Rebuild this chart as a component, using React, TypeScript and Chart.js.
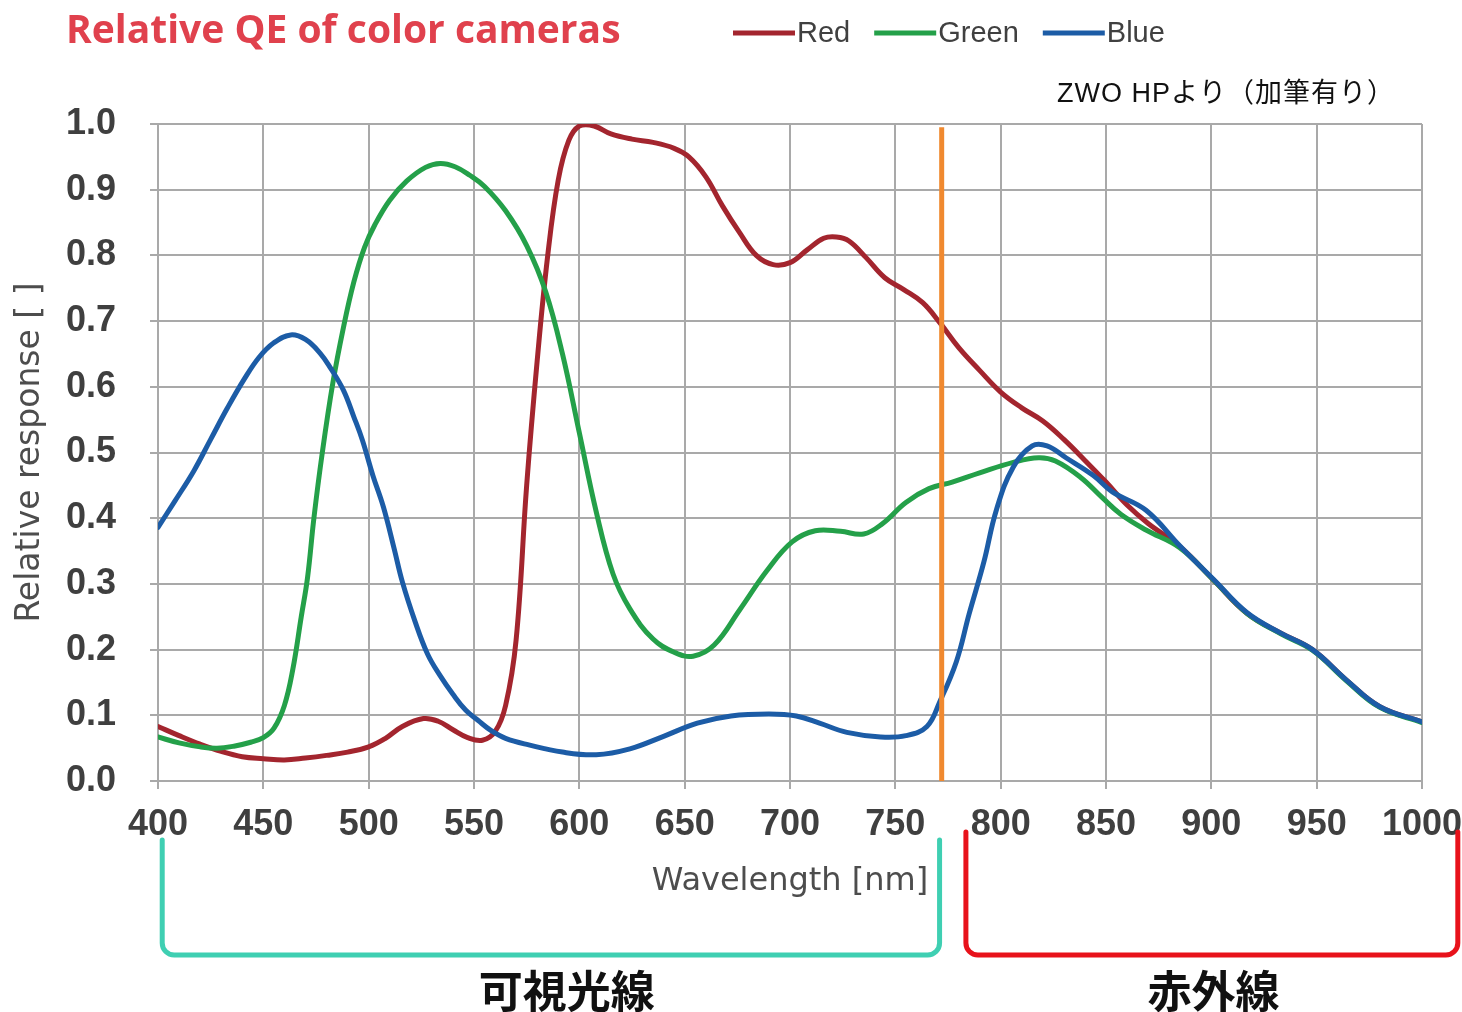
import React, { useEffect, useRef } from 'react';
import { Chart, registerables } from 'chart.js';

Chart.register(...registerables);

// ---------- texts ----------
const CHART_TITLE = 'Relative QE of color cameras';
const SOURCE_NOTE = 'ZWO HPより（加筆有り）';
const X_AXIS_TITLE = 'Wavelength [nm]';
const Y_AXIS_TITLE = 'Relative response [ ]';

// ---------- axes ----------
const X_MIN = 400;
const X_MAX = 1000;
const X_STEP = 50;
const Y_MIN = 0;
const Y_MAX = 1;
const Y_STEP = 0.1;

// ---------- series ----------
const seriesNames = ['Red', 'Green', 'Blue'];
const seriesColors = ['#a3252e', '#24a049', '#1c5ca6'];

const redWavelengths = [400, 410, 420, 430, 440, 450, 460, 470, 480, 490, 500, 508, 516, 526, 533, 540, 547, 554, 560, 565, 570, 575, 580, 585, 590, 595, 600, 607, 615, 625, 635, 645, 652, 660, 668, 676, 684, 692, 700, 708, 716, 722, 728, 736, 745, 754, 763, 771, 780, 790, 800, 810, 820, 830, 840, 850, 860, 870, 885, 901, 917, 933, 948, 964, 980, 1000];
const redValues = [0.083, 0.069, 0.056, 0.045, 0.037, 0.034, 0.032, 0.035, 0.039, 0.044, 0.052, 0.065, 0.083, 0.095, 0.091, 0.078, 0.066, 0.062, 0.075, 0.115, 0.215, 0.45, 0.64, 0.8, 0.915, 0.975, 0.997, 0.997, 0.985, 0.977, 0.972, 0.963, 0.95, 0.92, 0.875, 0.835, 0.8, 0.786, 0.789, 0.808, 0.826, 0.828, 0.822, 0.797, 0.766, 0.748, 0.728, 0.698, 0.66, 0.625, 0.592, 0.568, 0.548, 0.52, 0.488, 0.455, 0.42, 0.392, 0.357, 0.306, 0.255, 0.225, 0.2, 0.154, 0.113, 0.09];

const greenWavelengths = [400, 410, 420, 428, 436, 444, 450, 455, 460, 464, 468, 471, 474, 478, 483, 488, 493, 498, 503, 510, 518, 527, 534, 541, 548, 555, 565, 575, 584, 592, 600, 608, 616, 624, 635, 645, 654, 664, 676, 689, 701, 712, 724, 735, 744, 755, 766, 777, 790, 806, 818, 826, 838, 848, 857, 869, 885, 901, 917, 933, 948, 964, 980, 1000];
const greenValues = [0.067, 0.058, 0.052, 0.05, 0.053, 0.059, 0.066, 0.08, 0.115, 0.17, 0.25, 0.31, 0.4, 0.5, 0.606, 0.69, 0.76, 0.812, 0.847, 0.884, 0.913, 0.934, 0.94, 0.935, 0.922, 0.905, 0.868, 0.815, 0.745, 0.65, 0.53, 0.41, 0.315, 0.262, 0.216, 0.196, 0.19, 0.207, 0.26, 0.32, 0.364, 0.381, 0.38, 0.376, 0.392, 0.424, 0.445, 0.455, 0.469, 0.485, 0.492, 0.487, 0.462, 0.432, 0.406, 0.382, 0.355, 0.306, 0.255, 0.224, 0.199, 0.153, 0.112, 0.089];

const blueWavelengths = [400, 408, 417, 425, 433, 441, 448, 455, 463, 470, 477, 482, 488, 493, 497, 502, 507, 512, 516, 522, 528, 534, 540, 546, 552, 558, 565, 576, 592, 608, 624, 640, 656, 672, 690, 703, 714, 727, 743, 755, 765, 771, 779, 785, 792, 798, 806, 815, 822, 831, 844, 853, 869, 885, 901, 917, 933, 948, 964, 980, 1000];
const blueValues = [0.386, 0.426, 0.472, 0.52, 0.568, 0.612, 0.645, 0.667, 0.679, 0.672, 0.651, 0.628, 0.595, 0.554, 0.519, 0.465, 0.417, 0.355, 0.303, 0.243, 0.193, 0.16, 0.132, 0.108, 0.092, 0.077, 0.065, 0.055, 0.044, 0.04, 0.049, 0.068, 0.088, 0.099, 0.102, 0.099, 0.088, 0.074, 0.067, 0.069, 0.083, 0.12, 0.182, 0.254, 0.333, 0.413, 0.478, 0.51, 0.51, 0.492, 0.465, 0.44, 0.412, 0.358, 0.307, 0.256, 0.225, 0.2, 0.154, 0.113, 0.09];

// visible / infrared boundary marker
const cutoffWavelength = 772;
const cutoffTop = 0.995;
const cutoffColor = '#f0892f';

// band brackets under the axis
const bandLabels = ['可視光線', '赤外線'];
const bandStart = [402, 783.5];
const bandEnd = [771, 1017];
const bandLabelAt = [594, 901];
const bandColors = ['#3fcfb2', '#e8121b'];

const toPoints = (xs: number[], ys: number[]) => xs.map((x, i) => ({ x, y: ys[i] }));

const overlayPlugin = {
  id: 'overlay',
  afterDraw(chart: any) {
    const { ctx, chartArea, scales } = chart;
    const xs = scales.x;
    ctx.save();

    // title
    ctx.font = 'bold 39px "Open Sans", sans-serif';
    ctx.fillStyle = '#e0414d';
    ctx.textAlign = 'left';
    ctx.textBaseline = 'alphabetic';
    ctx.fillText(CHART_TITLE, 66, 43);

    // legend
    ctx.font = '29px "Liberation Sans", Arial, sans-serif';
    ctx.textBaseline = 'middle';
    let lx = 733;
    const ly = 33;
    seriesNames.forEach((name, i) => {
      ctx.strokeStyle = seriesColors[i];
      ctx.lineWidth = 5;
      ctx.lineCap = 'butt';
      ctx.beginPath();
      ctx.moveTo(lx, ly);
      ctx.lineTo(lx + 62, ly);
      ctx.stroke();
      ctx.fillStyle = '#404040';
      ctx.fillText(name, lx + 64, ly + 1);
      lx += 64 + ctx.measureText(name).width + 24;
    });

    // source note
    ctx.font = '27px "Liberation Sans", "Noto Sans CJK JP", sans-serif';
    (ctx as any).letterSpacing = '1px';
    ctx.fillStyle = '#111111';
    ctx.fillText(SOURCE_NOTE, 1057, 95);
    (ctx as any).letterSpacing = '0px';

    // band brackets
    const bracketTops = [chartArea.bottom + 59, chartArea.bottom + 51];
    const bracketBottom = chartArea.bottom + 174;
    const r = 12;
    bandLabels.forEach((label, i) => {
      const x0 = xs.getPixelForValue(bandStart[i]);
      const x1 = xs.getPixelForValue(bandEnd[i]);
      ctx.strokeStyle = bandColors[i];
      ctx.lineWidth = 5;
      ctx.lineJoin = 'round';
      ctx.lineCap = 'round';
      ctx.beginPath();
      ctx.moveTo(x0, bracketTops[i]);
      ctx.arcTo(x0, bracketBottom, x0 + r, bracketBottom, r);
      ctx.arcTo(x1, bracketBottom, x1, bracketBottom - r, r);
      ctx.lineTo(x1, bracketTops[i]);
      ctx.stroke();

      ctx.font = 'bold 44px "Noto Sans CJK JP", sans-serif';
      ctx.fillStyle = '#111111';
      ctx.textAlign = 'center';
      ctx.textBaseline = 'middle';
      ctx.fillText(label, xs.getPixelForValue(bandLabelAt[i]), chartArea.bottom + 210);
    });

    ctx.restore();
  },
};

export default function App() {
  const canvasRef = useRef<HTMLCanvasElement | null>(null);

  useEffect(() => {
    if (!canvasRef.current) return;
    const gridColor = '#a9a9a9';
    const curve = {
      borderWidth: 5,
      pointRadius: 0,
      tension: 0.4,
    };
    const chart = new Chart(canvasRef.current, {
      type: 'line',
      data: {
        datasets: [
          {
            label: 'cutoff',
            data: [
              { x: cutoffWavelength, y: 0 },
              { x: cutoffWavelength, y: cutoffTop },
            ],
            borderColor: cutoffColor,
            borderWidth: 5,
            pointRadius: 0,
            tension: 0,
            borderCapStyle: 'butt',
            order: 0,
          },
          {
            label: seriesNames[2],
            data: toPoints(blueWavelengths, blueValues),
            borderColor: seriesColors[2],
            ...curve,
            order: 1,
          },
          {
            label: seriesNames[1],
            data: toPoints(greenWavelengths, greenValues),
            borderColor: seriesColors[1],
            ...curve,
            order: 2,
          },
          {
            label: seriesNames[0],
            data: toPoints(redWavelengths, redValues),
            borderColor: seriesColors[0],
            ...curve,
            order: 3,
          },
        ],
      },
      options: {
        responsive: false,
        animation: false,
        devicePixelRatio: 1,
        layout: { padding: { left: 0, top: 124, right: 40, bottom: 0 } },
        plugins: {
          legend: { display: false },
          title: { display: false },
          tooltip: { enabled: false },
        },
        elements: { line: { borderJoinStyle: 'round', borderCapStyle: 'round' } },
        scales: {
          x: {
            type: 'linear',
            min: X_MIN,
            max: X_MAX,
            afterFit: (scale: any) => {
              scale.height = 231;
              scale.paddingLeft = 0;
              scale.paddingRight = 0;
            },
            ticks: {
              stepSize: X_STEP,
              autoSkip: false,
              maxRotation: 0,
              padding: 14,
              color: '#3f3f3f',
              font: { family: '"Liberation Sans", Arial, sans-serif', size: 36, weight: 'bold' },
              callback: (v: any) => String(v),
            },
            grid: { color: gridColor, lineWidth: 2, tickLength: 8, tickColor: gridColor },
            border: { color: gridColor, width: 2 },
            title: {
              display: true,
              text: X_AXIS_TITLE,
              color: '#4d4d4d',
              font: { family: '"DejaVu Sans", sans-serif', size: 32 },
              padding: { top: 0, bottom: 111 },
            },
          },
          y: {
            type: 'linear',
            min: Y_MIN,
            max: Y_MAX,
            afterFit: (scale: any) => {
              scale.width = 158;
              scale.paddingTop = 0;
              scale.paddingBottom = 0;
            },
            ticks: {
              stepSize: Y_STEP,
              padding: 34,
              color: '#3f3f3f',
              font: { family: '"Liberation Sans", Arial, sans-serif', size: 36, weight: 'bold' },
              callback: (v: any) => Number(v).toFixed(1),
            },
            grid: { color: gridColor, lineWidth: 2, tickLength: 8, tickColor: gridColor },
            border: { color: gridColor, width: 2 },
            title: {
              display: true,
              text: Y_AXIS_TITLE,
              color: '#4d4d4d',
              font: { family: '"DejaVu Sans", sans-serif', size: 33 },
              padding: { top: 11, bottom: 0 },
            },
          },
        },
      },
      plugins: [overlayPlugin],
    } as any);
    return () => chart.destroy();
  }, []);

  return (
    <div style={{ position: 'absolute', left: 0, top: 0, width: 1462, height: 1012, background: '#ffffff' }}>
      <canvas ref={canvasRef} width={1462} height={1012} style={{ display: 'block' }} />
    </div>
  );
}
